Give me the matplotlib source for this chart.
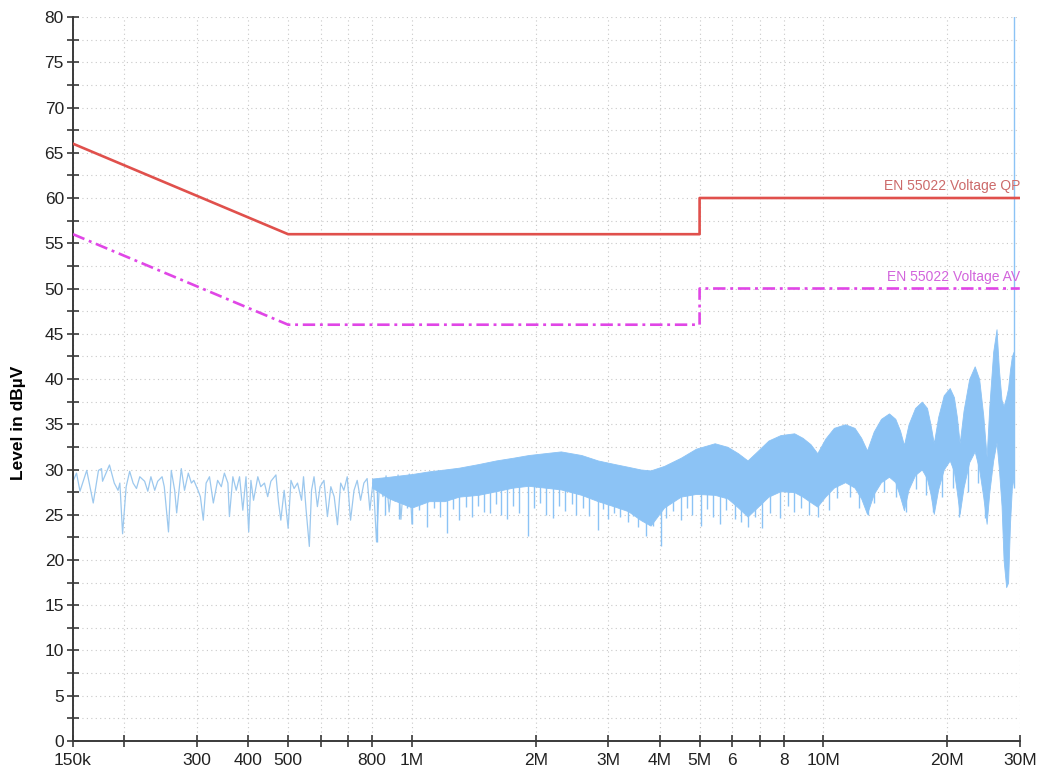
import numpy as np
import matplotlib
matplotlib.use("Agg")
import matplotlib.pyplot as plt
from matplotlib.ticker import FixedLocator, NullLocator, MultipleLocator

plt.rcParams["font.family"] = ["Liberation Sans", "DejaVu Sans"]

#  Limit lines (MHz, dBuV)
qp_freq = [0.15, 0.5, 5.0, 5.0, 30.0]
qp_level = [66, 56, 56, 60, 60]
av_freq = [0.15, 0.5, 5.0, 5.0, 30.0]
av_level = [56, 46, 46, 50, 50]

#  Measured trace, low band (kHz, dBuV) - sparse single sweep
low_khz = [150, 153, 156, 162, 168, 173, 176, 177, 184, 189, 193, 195, 198, 202,
           206, 210, 214, 218, 224, 228, 232, 237, 241, 247, 250, 256, 260, 265,
           268, 275, 280, 286, 291, 295, 302, 306, 311, 316, 322, 329, 337, 344,
           350, 357, 360, 367, 374, 381, 388, 395, 401, 406, 412, 422, 429, 438,
           446, 454, 467, 474, 480, 489, 500, 508, 517, 527, 539, 545, 553, 563,
           570, 578, 589, 598, 611, 623, 635, 647, 659, 671, 683, 696, 709, 723,
           736, 750, 764, 778, 790, 805, 820, 835, 850, 865, 880, 895, 910, 925,
           940, 955, 970, 985, 1000]
low_level = [28.7, 29.6, 27.6, 29.9, 26.3, 29.9, 30.1, 28.7, 30.5, 28.5, 27.7, 28.5,
             22.9, 28.1, 29.8, 28.5, 27.9, 29.2, 28.7, 27.6, 29.2, 27.7, 28.7, 29.2,
             28.1, 23.1, 29.9, 27.7, 25.2, 30.1, 27.7, 29.6, 28.5, 28.8, 27.7, 27.0,
             24.4, 28.5, 29.2, 26.3, 28.8, 28.1, 29.6, 28.5, 24.8, 29.2, 27.7, 29.2,
             25.5, 29.2, 23.1, 28.8, 26.6, 29.2, 28.1, 28.5, 27.0, 28.7, 29.4, 26.3,
             24.4, 27.7, 23.5, 28.8, 27.9, 28.5, 26.6, 29.2, 25.5, 21.5, 27.7, 29.2,
             25.9, 28.1, 28.8, 24.8, 28.1, 27.0, 23.9, 28.5, 27.7, 29.2, 24.4, 27.7,
             28.8, 26.6, 28.5, 29.0, 25.5, 28.8, 22.0, 29.0, 27.0, 29.3, 25.3, 28.6,
             26.5, 29.4, 24.5, 28.8, 27.2, 29.5, 24.0]

#  Dense band above ~800 kHz: envelope (MHz, dBuV)
band_freq = [0.8, 0.88, 1.0, 1.1, 1.2, 1.3, 1.45, 1.6, 1.76, 1.92, 2.1, 2.3,
             2.58, 2.83, 3.11, 3.35, 3.6, 3.8, 4.1, 4.5, 4.9, 5.44, 5.85, 6.2,
             6.54, 6.9, 7.35, 7.86, 8.49, 8.9, 9.3, 9.66, 10.1, 10.6, 11.29, 11.9,
             12.35, 12.76, 13.25, 13.8, 14.43, 14.95, 15.35, 15.69, 16.1, 16.7,
             17.34, 17.85, 18.2, 18.54, 19.0, 19.6, 20.27, 20.75, 21.1, 21.43, 21.9,
             22.6, 23.31, 23.9, 24.45, 24.92, 25.3, 25.85, 26.34, 26.7, 27.09, 27.4,
             27.8, 28.1, 28.4, 28.7, 28.97]
band_upper = [29.0, 29.2, 29.5, 29.8, 30.0, 30.2, 30.6, 31.0, 31.3, 31.6, 31.8, 32.0,
              31.6, 31.0, 30.6, 30.3, 30.0, 29.9, 30.4, 31.3, 32.3, 32.9, 32.5, 31.8,
              31.0, 32.0, 33.2, 33.8, 34.0, 33.5, 32.8, 31.8, 33.4, 34.6, 35.0, 34.6,
              33.5, 32.1, 34.2, 35.6, 36.2, 35.6, 34.3, 32.7, 35.0, 36.8, 37.5, 36.8,
              35.0, 32.9, 35.8, 38.2, 39.0, 38.0, 35.8, 32.9, 36.5, 40.0, 41.4, 40.0,
              36.0, 31.4, 37.0, 43.0, 45.5, 41.0, 37.7, 37.0, 38.0, 39.0, 41.0, 42.5,
              43.0]
band_lower = [28.0, 26.8, 25.8, 26.5, 26.5, 27.0, 27.2, 27.6, 28.0, 28.2, 28.0, 27.8,
              27.2, 26.5, 25.9, 25.4, 24.4, 23.8, 25.8, 27.0, 27.3, 27.2, 26.8, 25.8,
              24.8, 25.8, 27.0, 27.6, 27.5, 27.0, 26.4, 25.9, 27.0, 28.0, 28.6, 28.0,
              26.8, 25.1, 27.3, 28.6, 29.2, 28.6, 27.0, 25.5, 27.8, 29.4, 30.0, 29.0,
              27.3, 25.1, 27.8, 30.0, 31.0, 29.8, 27.5, 25.1, 28.0, 30.8, 32.0, 30.0,
              27.0, 24.0, 27.5, 31.0, 33.0, 30.0, 26.0, 20.0, 17.0, 17.5, 24.0, 28.0,
              29.0]

#  Single-bin dips below the band (MHz, dBuV)
dip_freq = [0.82, 0.86, 0.93, 0.97, 1.0, 1.04, 1.085, 1.13, 1.17, 1.214, 1.26, 1.298,
            1.35, 1.4, 1.45, 1.5, 1.551, 1.6, 1.65, 1.7, 1.76, 1.82, 1.917, 1.98,
            2.05, 2.12, 2.2, 2.28, 2.36, 2.45, 2.5, 2.6, 2.7, 2.832, 2.92, 3.0, 3.1,
            3.2, 3.35, 3.45, 3.55, 3.7, 3.85, 4.025, 4.15, 4.3, 4.5, 4.65, 4.8, 5.03,
            5.2, 5.4, 5.6, 5.8, 6.1, 6.3, 6.56, 6.8, 7.1, 7.4, 7.86, 8.2, 8.5, 8.8,
            9.2, 9.7, 10.3, 10.8, 11.6, 12.2, 12.8, 13.3, 14.0, 15.0, 15.9, 16.8,
            17.8, 18.5, 19.4, 20.6, 21.4, 22.4, 23.8, 24.7]
dip_level = [22.0, 25.0, 24.5, 25.8, 24.0, 25.5, 23.7, 25.8, 24.8, 23.0, 25.6, 24.4,
             25.9, 24.8, 26.0, 25.3, 25.2, 26.2, 25.0, 24.5, 26.0, 25.2, 22.7, 25.8,
             26.3, 25.0, 24.6, 26.0, 25.4, 26.2, 25.0, 25.8, 24.9, 23.3, 25.6, 24.5,
             25.2, 24.8, 24.2, 24.9, 23.6, 22.6, 23.8, 21.5, 24.6, 25.4, 24.4, 25.8,
             25.0, 23.8, 25.6, 24.8, 24.0, 25.5, 24.5, 24.2, 23.7, 24.8, 23.5, 25.2,
             24.6, 26.0, 25.3, 25.8, 25.0, 24.8, 25.5, 26.8, 27.0, 25.8, 25.0, 26.3,
             27.5, 27.0, 25.3, 27.8, 27.2, 25.3, 27.0, 28.0, 24.8, 27.5, 28.5, 24.6]

#  Spike at the top end of the band
peak_freq = [29.0]
peak_level = [82]

xtick_vals = [0.15, 0.2, 0.3, 0.4, 0.5, 0.6, 0.7, 0.8, 1, 2, 3, 4, 5, 6, 7, 8, 10, 20, 30]
xtick_text = ["150k", "", "300", "400", "500", "", "", "800", "1M", "2M", "3M", "4M",
              "5M", "6", "", "8", "10M", "20M", "30M"]

TRACE = "#8CC3F5"

fig = plt.figure(figsize=(10.47, 7.73), dpi=100)
ax = fig.add_axes([0.0697, 0.0414, 0.9043, 0.9366])

#  grid
ax.set_xscale("log")
ax.set_xlim(0.15, 30)
ax.set_ylim(0, 80)
ax.xaxis.set_major_locator(FixedLocator(xtick_vals))
ax.xaxis.set_minor_locator(NullLocator())
ax.set_xticklabels(xtick_text)
ax.yaxis.set_major_locator(MultipleLocator(5))
ax.yaxis.set_minor_locator(MultipleLocator(2.5))
ax.grid(True, which="both", color="#c8c8c8", ls=(0, (1, 3)), lw=0.8)
ax.set_axisbelow(True)

#  trace
ax.plot(np.array(low_khz) / 1000.0, low_level, color="#9cc8ee", lw=0.9, zorder=2)
ax.fill_between(band_freq, band_lower, band_upper, color=TRACE, lw=0.6,
                edgecolor=TRACE, zorder=2)
dip_f = np.array(dip_freq)
dip_top = np.where(dip_f < 10, 29, 31)
ax.vlines(dip_f, dip_level, dip_top, color=TRACE, lw=1.0, zorder=2)
ax.vlines(peak_freq, 28, peak_level, color=TRACE, lw=1.0, zorder=2)

#  limits
ax.plot(qp_freq, qp_level, color="#e0504c", lw=1.9, zorder=3)
ax.plot(av_freq, av_level, color="#e046e6", lw=1.9, ls=(0, (4.7, 1.8, 1.1, 1.8)), zorder=3)
ax.text(30.1, 60.5, "EN 55022 Voltage QP", color="#cc6a6a", fontsize=10,
        ha="right", va="bottom", clip_on=False)
ax.text(30.1, 50.5, "EN 55022 Voltage AV", color="#d264dc", fontsize=10,
        ha="right", va="bottom", clip_on=False)

#  axes cosmetics
for side in ("top", "right"):
    ax.spines[side].set_visible(False)
for side in ("left", "bottom"):
    ax.spines[side].set_color("#3a3a3a")
    ax.spines[side].set_linewidth(1.4)
ax.tick_params(axis="both", which="both", direction="inout", color="#3a3a3a",
               width=1.2, labelsize=12.5, labelcolor="#222222")
ax.tick_params(axis="both", which="major", length=9)
ax.tick_params(axis="y", which="minor", length=9)
ax.tick_params(axis="y", pad=2)
ax.tick_params(axis="x", pad=4)

ax.set_ylabel("Level in dBµV", fontsize=12.5, fontweight="bold")
ax.yaxis.set_label_coords(-0.05, 0.44)

fig.savefig("out.png", dpi=100)
